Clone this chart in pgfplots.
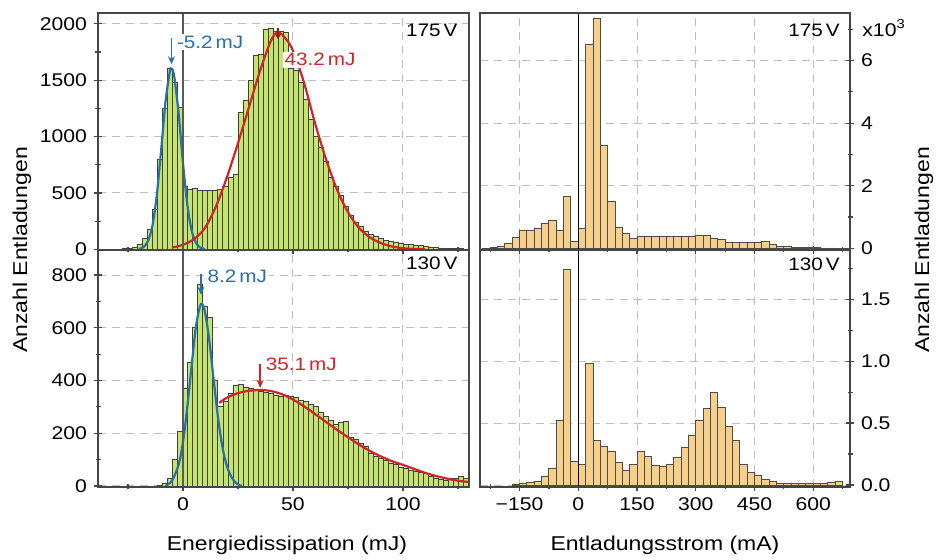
\documentclass[border=0pt]{standalone}
\usepackage{fontspec}
\setmainfont{Liberation Sans}[FakeStretch=1.15]
\usepackage{pgfplots}
\pgfplotsset{compat=1.18}
\usetikzlibrary{arrows.meta}
\definecolor{bargreen}{RGB}{196,229,106}
\definecolor{barorange}{RGB}{246,208,138}
\definecolor{fitblue}{RGB}{40,112,170}
\definecolor{fitred}{RGB}{210,35,40}
\definecolor{framegray}{RGB}{70,70,70}
\definecolor{gridgray}{RGB}{190,190,190}
\tikzset{lbl/.style={font=\fontsize{9}{10}\selectfont}}
\pgfplotsset{
  panel/.style={
    scale only axis, width=185.5pt, height=118.5pt,
    axis line style={framegray, line width=0.8pt},
    tick style={framegray, line width=0.6pt},
    major tick length=4pt, minor tick length=2.5pt,
    tick align=center, xtick pos=bottom,
    grid=major,
    major grid style={gridgray, dash pattern=on 4pt off 3pt, line width=0.5pt},
    /pgf/number format/assume math mode=true,
    /pgf/number format/1000 sep={},
    tick label style={font=\fontsize{9.2}{10}\selectfont},
    clip mode=individual,
  },
  leftpanel/.style={panel, xmin=-38.6, xmax=130, xtick={0,50,100}, minor xtick={-25,25,75,125}, ytick pos=left},
  rightpanel/.style={panel, width=185pt, xmin=-251, xmax=694, xtick={-150,0,150,300,450,600},
    xticklabels={−150,0,150,300,450,600}, minor xtick={-225,-75,75,225,375,525,675},
    ytick pos=right, yticklabel pos=right},
  greenbars/.style={ybar interval, fill=bargreen, draw=black!75, line width=0.45pt},
  orangebars/.style={ybar interval, fill=barorange, draw=black!70, line width=0.45pt},
}
\begin{document}
\begin{tikzpicture}
\useasboundingbox (0,0) rectangle (468pt,280pt);
% ---------------- top left 175 V
\begin{axis}[leftpanel, at={(49pt,155pt)}, anchor=south west,
  ymin=-6, ymax=2095, ytick={0,500,1000,1500,2000}, minor ytick={250,750,1250,1750}, xticklabels={}]
\addplot[greenbars] coordinates {
(-27.273,5) (-25.0,10) (-22.727,15) (-20.455,40) (-18.182,100) (-15.909,180) (-13.636,350)
(-11.364,800) (-9.091,1250) (-6.818,1600) (-4.545,1480) (-2.273,1260) (0,560) (2.273,530)
(4.545,540) (6.818,525) (9.091,520) (11.364,525) (13.636,520) (15.909,530) (18.182,560)
(20.455,640) (22.727,660) (25.0,1210) (27.273,1320) (29.545,1500) (31.818,1720) (34.091,1730)
(36.364,1950) (38.636,1960) (40.909,1930) (43.182,1930) (45.455,1920) (47.727,1600) (50.0,1590)
(52.273,1480) (54.545,1330) (56.818,1150) (59.091,1000) (61.364,900) (63.636,780) (65.909,640)
(68.182,560) (70.455,480) (72.727,380) (75.0,300) (77.273,240) (79.545,200) (81.818,160)
(84.091,130) (86.364,110) (88.636,95) (90.909,80) (93.182,70) (95.455,60) (97.727,52)
(100.0,45) (102.273,40) (104.545,35) (106.818,30) (109.091,25) (111.364,20) (113.636,16)
(115.909,12) (118.182,10) (120.455,8) (122.727,6) (125.0,4) (127.273,3) (129.545,0)};
\addplot[fitblue, line width=1.1pt, smooth] coordinates {
(-20,4) (-18,19) (-16,68) (-14,197) (-12,459) (-10,858) (-8,1294) (-6,1572) (-5.2,1600)
(-4,1539) (-2,1212) (0,770) (2,395) (4,164) (6,55) (8,14) (10,3)};
\addplot[fitred, line width=1.1pt, smooth] coordinates {
(-5,15) (0,40) (5,90) (10,190) (15,380) (20,640) (25,940) (30,1260) (35,1580) (40,1850)
(43.2,1925) (47,1860) (50,1760) (55,1480) (60,1120) (65,800) (70,530) (75,330) (80,190)
(85,105) (90,55) (95,25) (100,10) (105,4) (110,1)};
\draw[black!65, line width=1.1pt] (axis cs:0,-6) -- (axis cs:0,2095);
\draw[fitblue, line width=0.7pt, -{Stealth[length=4pt,width=3.5pt]}] (axis cs:-5.2,1870) -- (axis cs:-5.2,1640);
\node[lbl, fitblue, fill=white, inner sep=0.8pt, anchor=west] at (axis cs:-3.6,1836) {-5.2\,mJ};
\draw[fitred!70!black, line width=0.7pt, -{Stealth[length=3pt,width=3pt]}] (axis cs:43.2,1960) -- (axis cs:43.2,1860);
\node[lbl, fitred, fill=white, inner sep=0.8pt, anchor=west] at (axis cs:45.3,1680) {43.2\,mJ};
\node[lbl, anchor=north east, inner sep=0pt] at (rel axis cs:0.97,0.955) {175\,V};
\draw[framegray, line width=0.8pt] (rel axis cs:0,0) rectangle (rel axis cs:1,1);
\end{axis}
% ---------------- bottom left 130 V
\begin{axis}[leftpanel, at={(49pt,36.5pt)}, anchor=south west,
  ymin=-3.8, ymax=894.8, ytick={0,200,400,600,800}, minor ytick={100,300,500,700}]
\addplot[greenbars] coordinates {
(-11.364,3) (-9.091,10) (-6.818,30) (-4.545,100) (-2.273,205) (0,370) (2.273,470) (4.545,600)
(6.818,765) (9.091,680) (11.364,640) (13.636,400) (15.909,300) (18.182,320) (20.455,350)
(22.727,380) (25.0,385) (27.273,375) (29.545,370) (31.818,365) (34.091,360) (36.364,355)
(38.636,350) (40.909,345) (43.182,340) (45.455,345) (47.727,340) (50.0,335) (52.273,325)
(54.545,320) (56.818,310) (59.091,300) (61.364,280) (63.636,265) (65.909,250) (68.182,235)
(70.455,240) (72.727,245) (75.0,185) (77.273,175) (79.545,160) (81.818,150) (84.091,125)
(86.364,112) (88.636,105) (90.909,98) (93.182,85) (95.455,80) (97.727,72) (100.0,65)
(102.273,58) (104.545,55) (106.818,52) (109.091,48) (111.364,35) (113.636,28) (115.909,25)
(118.182,22) (120.455,28) (122.727,30) (125.0,36) (127.273,30) (129.545,0)};
\addplot[fitblue, line width=1.1pt, smooth] coordinates {
(-8,0) (-5,20) (-2,80) (0,165) (2,300) (4,460) (6,610) (8.2,690) (10,660) (12,550) (14,400)
(16,255) (18,145) (20,75) (22,35) (24,12) (26,2) (27,0)};
\addplot[fitred, line width=1.1pt, smooth] coordinates {
(16.5,315) (20,335) (25,352) (30,361) (35.1,364) (40,360) (45,348) (50,328) (55,302) (60,273)
(65,243) (70,213) (75,185) (80,157) (85,133) (90,112) (95,94) (100,80) (105,65) (110,50)
(115,38) (120,28) (125,20) (130,15)};
\draw[black!65, line width=1.1pt] (axis cs:0,-3.8) -- (axis cs:0,894.8);
\draw[fitblue, line width=0.7pt, -{Stealth[length=4pt,width=3.5pt]}] (axis cs:8.2,805) -- (axis cs:8.2,725);
\node[lbl, fitblue, fill=white, inner sep=0.8pt, anchor=west] at (axis cs:10.3,794) {8.2\,mJ};
\draw[fitred, line width=0.7pt, -{Stealth[length=4pt,width=3.5pt]}] (axis cs:35.1,462) -- (axis cs:35.1,372);
\node[lbl, fitred, inner sep=0.8pt, anchor=west] at (axis cs:36.8,462) {35.1\,mJ};
\node[lbl, anchor=north east, inner sep=0pt] at (rel axis cs:0.97,0.972) {130\,V};
\draw[framegray, line width=0.8pt] (rel axis cs:0,0) rectangle (rel axis cs:1,1);
\end{axis}
% ---------------- top right 175 V
\begin{axis}[rightpanel, at={(240pt,155pt)}, anchor=south west,
  ymin=-0.054, ymax=7.52, ytick={0,2,4,6}, minor ytick={1,3,5,7}, xticklabels={}]
\addplot[orangebars] coordinates {
(-243.75,0.005) (-225,0.02) (-206.25,0.05) (-187.5,0.16) (-168.75,0.35) (-150,0.585)
(-131.25,0.585) (-112.5,0.64) (-93.75,0.78) (-75,0.905) (-56.25,0.585) (-37.5,1.65)
(-18.75,0.21) (0,0.64) (18.75,6.5) (37.5,7.33) (56.25,3.3) (75,1.49) (93.75,0.66)
(112.5,0.48) (131.25,0.32) (150,0.37) (168.75,0.37) (187.5,0.37) (206.25,0.37) (225,0.37)
(243.75,0.37) (262.5,0.37) (281.25,0.37) (300,0.40) (318.75,0.40) (337.5,0.30) (356.25,0.28)
(375,0.20) (393.75,0.18) (412.5,0.18) (431.25,0.18) (450,0.18) (468.75,0.23) (487.5,0.12)
(506.25,0.07) (525,0.05) (543.75,0.03) (562.5,0.02) (581.25,0.015) (600,0.012) (618.75,0.01)
(637.5,0.01) (656.25,0.008) (675,0.005) (693.75,0)};
\draw[black, line width=0.6pt] (axis cs:0,-0.054) -- (axis cs:0,7.52);
\node[lbl, anchor=north east, inner sep=0pt] at (rel axis cs:0.973,0.955) {175\,V};
\draw[framegray, line width=0.8pt] (rel axis cs:0,0) rectangle (rel axis cs:1,1);
\end{axis}
% ---------------- bottom right 130 V
\begin{axis}[rightpanel, at={(240pt,36.5pt)}, anchor=south west,
  ymin=-0.016, ymax=1.898, ytick={0,0.5,1,1.5}, minor ytick={0.25,0.75,1.25,1.75},
  yticklabel style={/pgf/number format/fixed, /pgf/number format/fixed zerofill, /pgf/number format/precision=1}]
\addplot[orangebars] coordinates {
(-168.75,0.005) (-150,0.013) (-131.25,0.02) (-112.5,0.03) (-93.75,0.07) (-75,0.135)
(-56.25,0.525) (-37.5,1.74) (-18.75,0.19) (0,0.17) (18.75,0.98) (37.5,0.36) (56.25,0.31)
(75,0.27) (93.75,0.18) (112.5,0.115) (131.25,0.17) (150,0.27) (168.75,0.23) (187.5,0.16)
(206.25,0.15) (225,0.17) (243.75,0.22) (262.5,0.30) (281.25,0.40) (300,0.52) (318.75,0.62)
(337.5,0.75) (356.25,0.63) (375,0.47) (393.75,0.36) (412.5,0.17) (431.25,0.10) (450,0.08)
(468.75,0.045) (487.5,0.03) (506.25,0.012) (525,0.01) (543.75,0.01) (562.5,0.01) (581.25,0.01)
(600,0.01) (618.75,0.012) (637.5,0.02) (656.25,0.03) (675,0)};
\draw[black, line width=0.6pt] (axis cs:0,-0.016) -- (axis cs:0,1.898);
\node[lbl, anchor=north east, inner sep=0pt] at (rel axis cs:0.973,0.97) {130\,V};
\draw[framegray, line width=0.8pt] (rel axis cs:0,0) rectangle (rel axis cs:1,1);
\end{axis}
% ---------------- labels
\node[rotate=90, font=\fontsize{10}{12}\selectfont] at (11pt,155pt) {Anzahl Entladungen};
\node[rotate=90, font=\fontsize{10}{12}\selectfont] at (462pt,155pt) {Anzahl Entladungen};
\node[font=\fontsize{10}{12}\selectfont] at (143.5pt,7.5pt) {Energiedissipation (mJ)};
\node[font=\fontsize{10}{12}\selectfont] at (332.5pt,7.5pt) {Entladungsstrom (mA)};
\node[anchor=west, inner sep=0pt, font=\fontsize{9.2}{10}\selectfont] at (431pt,266pt) {x10\textsuperscript{3}};
\end{tikzpicture}
\end{document}
